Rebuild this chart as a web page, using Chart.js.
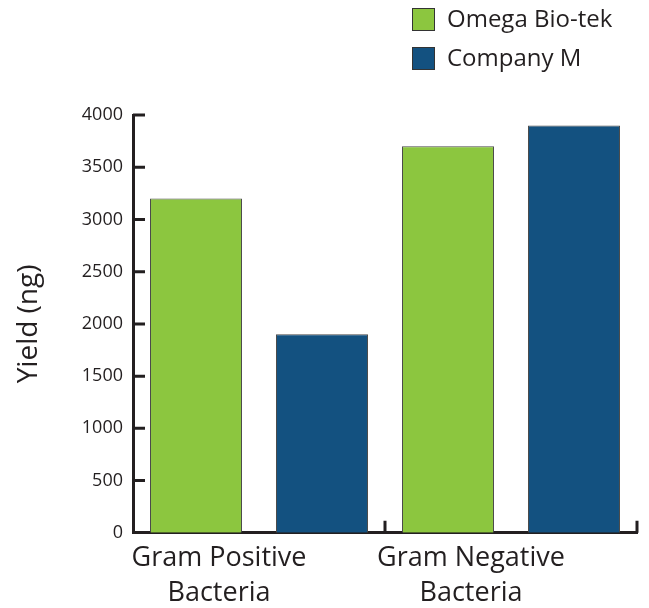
<!DOCTYPE html>
<html>
<head>
<meta charset="utf-8">
<script src="https://cdn.jsdelivr.net/npm/chart.js@4"></script>
<style>
  body { margin: 0; background: #fff; }
  #wrap { position: relative; width: 649px; height: 608px; }
  #legend { position: absolute; left: 412px; top: 7px; font-family: "Open Sans", sans-serif; font-size: 24px; color: #231f20; }
  #legend div { height: 39px; display: flex; align-items: flex-start; }
  #legend span.box { display: inline-block; width: 21px; height: 21px; border: 1px solid #333; margin-right: 12px; margin-top: 1px; }
  #legend span.txt { line-height: 22px; }
</style>
</head>
<body>
<div id="wrap">
  <canvas id="chart" width="649" height="608"></canvas>
  <div id="legend"></div>
</div>
<script>
// data
categories = [["Gram Positive", "Bacteria"], ["Gram Negative", "Bacteria"]];
seriesNames = ["Omega Bio-tek", "Company M"];
omegaValues = [3200, 3700];
companyMValues = [1900, 3900];
seriesColors = ["#8cc63f", "#135180"];
yTicks = [0, 500, 1000, 1500, 2000, 2500, 3000, 3500, 4000];

axisColor = "#231f20";

// legend in html, from the same arrays
legendDiv = document.getElementById('legend');
for (let i = 0; i < seriesNames.length; i++) {
  row = document.createElement('div');
  row.innerHTML = '<span class="box" style="background:' + seriesColors[i] + '"></span><span class="txt">' + seriesNames[i] + '</span>';
  legendDiv.appendChild(row);
}

// tick marks drawn inward from the axes
insideTicks = {
  id: 'insideTicks',
  afterDraw(chart) {
    const ctx = chart.ctx;
    const y = chart.scales.y;
    const x = chart.scales.x;
    const area = chart.chartArea;
    ctx.save();
    ctx.strokeStyle = axisColor;
    ctx.lineWidth = 3;
    ctx.beginPath();
    for (let i = 1; i < y.ticks.length; i++) {
      const py = y.getPixelForTick(i);
      ctx.moveTo(area.left, py);
      ctx.lineTo(area.left + 12, py);
    }
    for (let i = 1; i <= categories.length; i++) {
      const px = x.getPixelForValue(i - 0.5);
      ctx.moveTo(px, area.bottom);
      ctx.lineTo(px, area.bottom - 12);
    }
    ctx.stroke();
    ctx.restore();
  }
};

const data = {
  labels: categories,
  datasets: [{
    label: seriesNames[0],
    data: omegaValues,
    backgroundColor: seriesColors[0],
    borderColor: "#4a4a4a",
    borderWidth: 1,
  }, {
    label: seriesNames[1],
    data: companyMValues,
    backgroundColor: seriesColors[1],
    borderColor: "#4a4a4a",
    borderWidth: 1,
  }]
};

const options = {
  responsive: false,
  animation: false,
  layout: { padding: { top: 115, right: 12, left: 0, bottom: -3 } },
  categoryPercentage: 1.0,
  barPercentage: 0.73,
  plugins: {
    legend: { display: false },
    tooltip: { enabled: false },
  },
  scales: {
    x: {
      grid: { display: false, offset: true },
      border: { color: axisColor, width: 3 },
      ticks: {
        color: axisColor,
        font: { family: "Open Sans", size: 27, lineHeight: 1.3 },
        labelOffset: -40,
        padding: 0,
        maxRotation: 0,
      },
    },
    y: {
      min: 0,
      max: 4000,
      afterFit(scale) { scale.width = 133; },
      afterBuildTicks(scale) { scale.ticks = yTicks.map(v => ({value: v})); },
      grid: { display: false },
      border: { color: axisColor, width: 3 },
      ticks: {
        color: axisColor,
        font: { family: "Open Sans", size: 18 },
        padding: 2,
        callback: v => String(v),
      },
      title: {
        display: true,
        text: "Yield (ng)",
        color: axisColor,
        font: { family: "Open Sans", size: 28 },
        padding: { top: 12, bottom: 0 },
      },
    }
  }
};

const ctx = document.getElementById('chart').getContext('2d');
myChart = new Chart(ctx, {
  type: 'bar',
  data: data,
  options: options,
  plugins: [insideTicks],
});
</script>
</body>
</html>
